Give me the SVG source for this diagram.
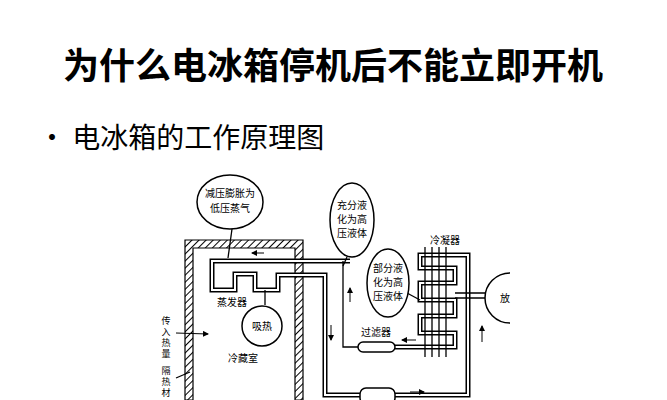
<svg xmlns="http://www.w3.org/2000/svg" width="667" height="400" viewBox="0 0 667 400">
<defs>
<pattern id="h" width="5" height="5" patternUnits="userSpaceOnUse" patternTransform="rotate(45)"><rect width="5" height="5" fill="#fff"/><line x1="0" y1="0" x2="0" y2="5" stroke="#000" stroke-width="2"/></pattern>
<marker id="a" markerWidth="6" markerHeight="6" refX="5" refY="3" orient="auto"><path d="M0,0L6,3L0,6z" fill="#000"/></marker>
</defs>
<style>
text{font-family:"Noto Sans CJK SC","Noto Sans",sans-serif;fill:#000}
.s{font-size:10px;text-anchor:middle}
.v{font-size:9px;writing-mode:vertical-rl;letter-spacing:2px}
.b{fill:#fff;stroke:#000;stroke-width:1.5}
.l{fill:none;stroke:#000;stroke-width:1.3}
.t{fill:none;stroke:#000;stroke-width:5}
.ti{fill:none;stroke:#fff;stroke-width:2}
.ar{stroke:#000;stroke-width:1;marker-end:url(#a)}
</style>
<rect width="667" height="400" fill="#fff"/>
<text x="333" y="79" font-size="36" font-weight="bold" text-anchor="middle">为什么电冰箱停机后不能立即开机</text>
<text x="38" y="148" font-size="28">• 电冰箱的工作原理图</text>
<g id="cabinet">
<path d="M185,400V240H303V400H295V248H193V400Z" fill="url(#h)" stroke="#000" stroke-width="1.2"/>
<text class="s" x="243" y="362">冷藏室</text>
</g>
<g id="connectors">
<path class="t" d="M350,261H212V290H235V274H255V290H278V275H325V395H360"/>
<path class="ti" d="M350,261H212V290H235V274H255V290H278V275H325V395H360"/>
<path class="l" d="M343,261V347H358"/>
<path class="t" d="M395,347H455V333H420V316H455V300H420V283H455V268H420V255H468V395H395"/>
<path class="ti" d="M395,347H455V333H420V316H455V300H420V283H455V268H420V255H468V395H395"/>
<line class="l" x1="232" y1="229" x2="228" y2="258"/>
<line class="l" x1="347" y1="257" x2="343" y2="266"/>
<line class="l" x1="265" y1="290" x2="265" y2="305"/>
<line class="l" x1="407" y1="293" x2="420" y2="300"/>
<path class="l" d="M455,293H490M455,298H490"/>
<line class="ar" x1="264" y1="253" x2="252" y2="253"/>
<line class="ar" x1="350" y1="302" x2="350" y2="288"/>
<line class="ar" x1="331" y1="325" x2="331" y2="340"/>
<line class="ar" x1="416" y1="340" x2="402" y2="340"/>
<line class="ar" x1="482" y1="342" x2="482" y2="326"/>
<line class="ar" x1="410" y1="392" x2="424" y2="392"/>
<line class="ar" x1="176" y1="333" x2="208" y2="334"/>
<line class="l" x1="176" y1="378" x2="190" y2="372"/>
<path class="l" d="M425,247V357M432,247V357M439,247V357M446,247V357"/>
</g>
<g id="ellipse1"><ellipse class="b" cx="230" cy="202" rx="33" ry="27"/><text class="s" x="230" y="197">减压膨胀为</text><text class="s" x="230" y="212">低压蒸气</text></g>
<g id="ellipse2"><ellipse class="b" cx="352" cy="220" rx="22" ry="37"/><text class="s" x="352" y="209">充分液</text><text class="s" x="352" y="223">化为高</text><text class="s" x="352" y="237">压液体</text></g>
<g id="ellipse3"><ellipse class="b" cx="388" cy="283" rx="21" ry="34"/><text class="s" x="388" y="272">部分液</text><text class="s" x="388" y="286">化为高</text><text class="s" x="388" y="300">压液体</text></g>
<g id="absorb"><circle class="b" cx="262" cy="326" r="20"/><text class="s" x="262" y="330">吸热</text></g>
<g id="evap"><text class="s" x="232" y="306">蒸发器</text></g>
<g id="cond"><text class="s" x="445" y="244">冷凝器</text></g>
<g id="filter"><rect class="b" x="358" y="342" width="37" height="10" rx="5"/><text class="s" x="376" y="336">过滤器</text></g>
<g id="compressor"><rect class="b" x="360" y="388" width="35" height="16" rx="6"/></g>
<g id="release"><path d="M510,273A25,25 0 0 0 510,323" class="b"/><rect x="511" y="270" width="30" height="60" fill="#fff"/><text class="s" x="505" y="302">放</text></g>
<g id="leftlabels">
<text x="166" y="316" class="v">传入热量</text>
<text x="166" y="366" class="v">隔热材</text>
</g>
</svg>
